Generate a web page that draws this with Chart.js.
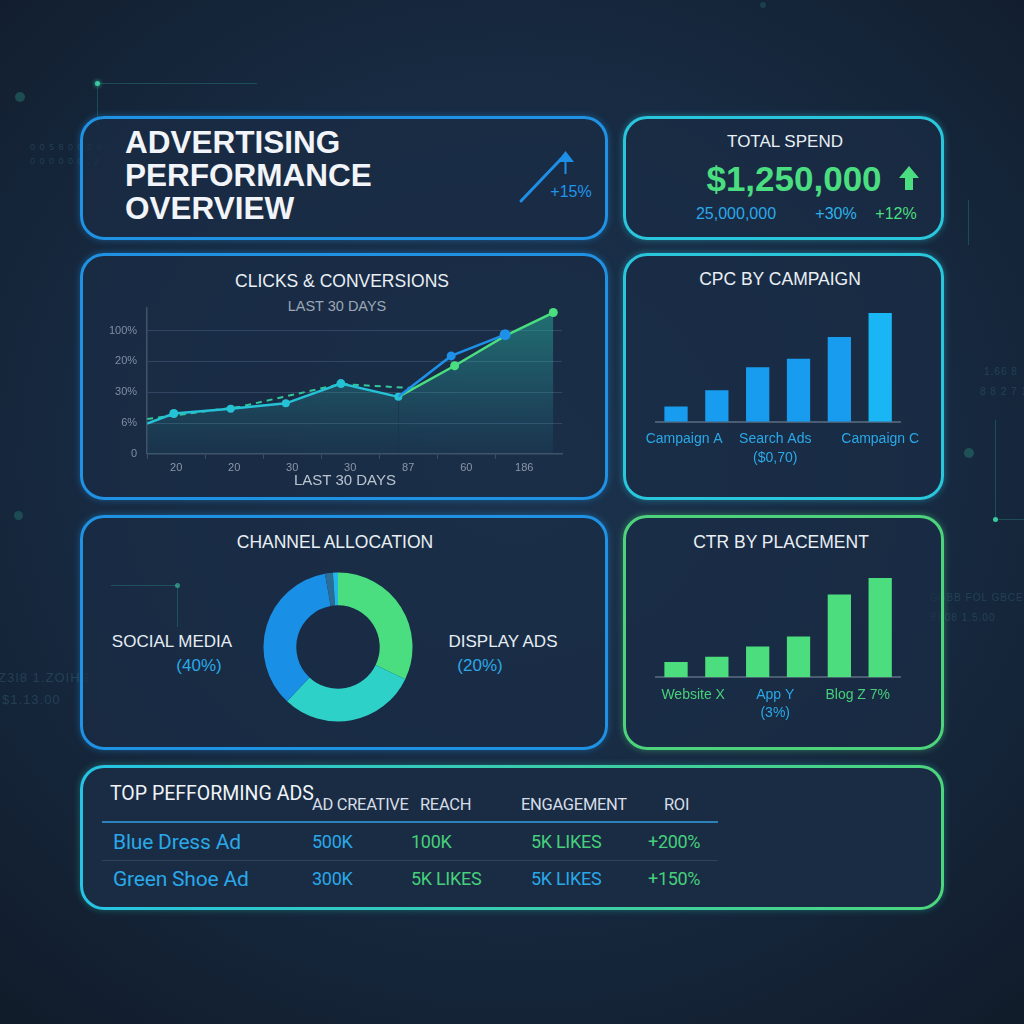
<!DOCTYPE html>
<html>
<head>
<meta charset="utf-8">
<script src="https://cdn.jsdelivr.net/npm/chart.js@4.4.1/dist/chart.umd.min.js"></script>
<style>
html,body{margin:0;padding:0;}
body{width:1024px;height:1024px;overflow:hidden;position:relative;
  background:radial-gradient(ellipse 75% 70% at 50% 45%, #1c334e 0%, #172a41 55%, #111c2b 100%);
  font-family:'Liberation Sans', Arial, sans-serif;color:#e8eef5;}
.panel{position:absolute;box-sizing:border-box;border:3px solid #1f92e4;border-radius:24px;background:rgba(26,45,69,0.72);}
.blue{border-color:#1f92e4;box-shadow:0 0 7px rgba(31,146,228,.45);}
.cyan{border-color:#29c6dc;box-shadow:0 0 7px rgba(41,198,220,.45);}
.green{border-color:#4cd37c;box-shadow:0 0 7px rgba(76,211,124,.45);}
.grad{border-color:transparent;background:linear-gradient(#192c44,#192c44) padding-box,linear-gradient(90deg,#25c4e4,#4cd67c) border-box;box-shadow:0 0 7px rgba(40,200,180,.4);}
.t{position:absolute;white-space:nowrap;line-height:1;}
.c{transform:translate(-50%,-50%);}
.l{transform:translateY(-50%);}
.title{font-size:17.5px;color:#e9eff5;}
canvas{position:absolute;}
.ln{position:absolute;background:rgba(44,150,140,0.35);}
.dot{position:absolute;border-radius:50%;}
.faint{position:absolute;color:rgba(60,120,130,0.35);font-size:13px;white-space:nowrap;letter-spacing:1px;}
</style>
</head>
<body>

<!-- background decoration -->
<div class="ln" style="left:97px;top:83px;width:160px;height:1px;"></div>
<div class="ln" style="left:97px;top:83px;width:1px;height:42px;"></div>
<div class="dot" style="left:95px;top:81px;width:5px;height:5px;background:#3bc9a0;box-shadow:0 0 4px #3bc9a0;"></div>
<div class="dot" style="left:15px;top:92px;width:10px;height:10px;background:rgba(40,130,120,0.45);"></div>
<div class="faint" style="left:30px;top:142px;font-size:9px;">0 0 5 8 0 0 0 0</div>
<div class="faint" style="left:30px;top:156px;font-size:9px;">0 0 0 0 0 0 . 2</div>
<div class="dot" style="left:14px;top:511px;width:9px;height:9px;background:rgba(40,130,120,0.4);"></div>
<div class="faint" style="left:-2px;top:670px;">Z3I8 1.ZOIHS</div>
<div class="faint" style="left:2px;top:692px;">$1.13.00</div>
<div class="ln" style="left:968px;top:200px;width:1px;height:45px;"></div>
<div class="faint" style="left:984px;top:366px;font-size:10px;">1.66 8</div>
<div class="faint" style="left:980px;top:386px;font-size:10px;">8 8 2 7 1</div>
<div class="dot" style="left:964px;top:448px;width:10px;height:10px;background:rgba(40,130,120,0.45);"></div>
<div class="ln" style="left:995px;top:420px;width:1px;height:99px;"></div>
<div class="ln" style="left:995px;top:519px;width:40px;height:1px;"></div>
<div class="dot" style="left:993px;top:517px;width:5px;height:5px;background:#3bc9a0;"></div>
<div class="faint" style="left:930px;top:592px;font-size:10px;">GBBB FOL GBCE</div>
<div class="faint" style="left:930px;top:612px;font-size:10px;">BF08 1.5.00</div>
<div class="dot" style="left:760px;top:2px;width:6px;height:6px;background:rgba(40,130,120,0.3);"></div>

<!-- panels -->
<div class="panel blue" style="left:80px;top:116px;width:528px;height:124px;"></div>
<div class="panel cyan" style="left:623px;top:116px;width:321px;height:124px;"></div>
<div class="panel blue" style="left:80px;top:253px;width:528px;height:247px;"></div>
<div class="panel cyan" style="left:623px;top:253px;width:321px;height:247px;"></div>
<div class="panel blue" style="left:80px;top:515px;width:528px;height:235px;"></div>
<div class="panel green" style="left:623px;top:515px;width:321px;height:235px;"></div>
<div class="panel grad" style="left:80px;top:765px;width:864px;height:145px;"></div>

<!-- decoration showing through the channel panel -->
<div class="ln" style="left:111px;top:585px;width:66px;height:1px;"></div>
<div class="ln" style="left:177px;top:585px;width:1px;height:42px;"></div>
<div class="dot" style="left:175px;top:583px;width:5px;height:5px;background:#3bc9a0;opacity:.6;"></div>

<!-- header block -->
<div class="t" style="left:125px;top:126px;font-size:31.5px;line-height:33px;font-weight:bold;color:#f1f4f8;">ADVERTISING<br>PERFORMANCE<br>OVERVIEW</div>
<svg style="position:absolute;left:0;top:0;" width="1024" height="260">
  <line x1="521" y1="201" x2="561" y2="159" stroke="#1e8fe6" stroke-width="3" stroke-linecap="round"/>
  <line x1="565.5" y1="158" x2="565.5" y2="174" stroke="#1e8fe6" stroke-width="2"/>
  <polygon points="565.5,151 557,162 574,162" fill="#1e8fe6"/>
  <polygon points="909,166 899,178 905,178 905,190 913,190 913,178 919,178" fill="#4ade80"/>
</svg>
<div class="t c" style="left:571px;top:192px;font-size:16px;color:#1e95ea;">+15%</div>

<div class="t c" style="left:785px;top:141px;font-size:17px;color:#e9eff5;">TOTAL SPEND</div>
<div class="t c" style="left:794px;top:178px;font-size:35px;font-weight:bold;color:#4ade80;">$1,250,000</div>
<div class="t c" style="left:736px;top:214px;font-size:16px;color:#2aa8e8;">25,000,000</div>
<div class="t c" style="left:836px;top:214px;font-size:16px;color:#2cb2ea;">+30%</div>
<div class="t c" style="left:896px;top:214px;font-size:16px;color:#4ade80;">+12%</div>

<!-- clicks & conversions -->
<div class="t c title" style="left:342px;top:282px;">CLICKS &amp; CONVERSIONS</div>
<div class="t c" style="left:337px;top:306px;font-size:14.5px;color:#9ba7b5;">LAST 30 DAYS</div>
<canvas id="lineChart" width="490" height="193" style="left:95px;top:291px;"></canvas>
<div class="t c" style="left:345px;top:479px;font-size:15px;color:#b9c4d0;">LAST 30 DAYS</div>

<!-- CPC -->
<div class="t c title" style="left:780px;top:280px;">CPC BY CAMPAIGN</div>
<canvas id="cpcChart" width="300" height="175" style="left:630px;top:309px;"></canvas>

<!-- channel -->
<div class="t c title" style="left:335px;top:543px;">CHANNEL ALLOCATION</div>
<canvas id="channelChart" width="160" height="160" style="left:258px;top:567px;"></canvas>
<div class="t c" style="left:172px;top:641px;font-size:17px;color:#e6edf4;">SOCIAL MEDIA</div>
<div class="t c" style="left:199px;top:665px;font-size:17px;color:#2aa8e8;">(40%)</div>
<div class="t c" style="left:503px;top:641px;font-size:17px;color:#e6edf4;">DISPLAY ADS</div>
<div class="t c" style="left:480px;top:665px;font-size:17px;color:#2aa8e8;">(20%)</div>

<!-- CTR -->
<div class="t c title" style="left:781px;top:543px;">CTR BY PLACEMENT</div>
<canvas id="ctrChart" width="300" height="180" style="left:630px;top:569px;"></canvas>

<!-- table -->
<div id="table"></div>

<script>
// ---- data ----
const lineXTicks = ['20', '20', '30', '30', '87', '60', '186'];
const lineYTicks = ['0', '6%', '30%', '20%', '100%'];

const clickDays = [0, 0.46, 1.44, 2.39, 3.34, 4.33];
const clickRate = [0.985, 1.31, 1.46, 1.64, 2.28, 1.85];
const blueDays = [4.33, 5.24, 6.17];
const blueRate = [1.85, 3.18, 3.87];
const convDays = [4.33, 5.30, 6.17, 7.0];
const convRate = [1.85, 2.86, 3.83, 4.59];
const trendDays = [0, 1.6, 3.34, 4.6];
const trendRate = [1.13, 1.53, 2.27, 2.13];

const cpcCampaigns = ['Campaign A', 'Campaign B', 'Search Ads', 'Shopping', 'Video', 'Campaign C'];
const cpcValues = [0.14, 0.29, 0.50, 0.58, 0.78, 1.00];
const cpcTickLabels = ['Campaign A', ['Search Ads', '($0,70)'], 'Campaign C'];
const cpcTickAt = [0.7, 2.93, 5.5];

const ctrPlacements = ['Website X', 'Website W', 'App Y', 'App V', 'Blog Q', 'Blog Z'];
const ctrValues = [1.07, 1.45, 2.16, 2.87, 5.84, 7.0];
const ctrTickLabels = ['Website X', ['App Y', '(3%)'], 'Blog Z 7%'];
const ctrTickAt = [0.92, 2.93, 4.95];

const channelLabels = ['Display Ads', 'Search', 'Social Media', 'Email', 'Other'];
const channelShares = [32.1, 29.9, 35.2, 1.7, 1.1];

const tableHeaders = ['AD CREATIVE', 'REACH', 'ENGAGEMENT', 'ROI'];
const adNames = ['Blue Dress Ad', 'Green Shoe Ad'];
const adCreative = ['500K', '300K'];
const adReach = ['100K', '5K LIKES'];
const adEngagement = ['5K LIKES', '5K LIKES'];
const adRoi = ['+200%', '+150%'];

// ---- styling ----
const BLUE = '#1e90e8', CYAN = '#25c2d6', GREEN = '#4ade80', TXT_BLUE = '#2aa8e8', TXT_GREEN = '#47cf7b';
Chart.defaults.font.family = "'Liberation Sans', Arial, sans-serif";
Chart.defaults.animation = false;

function pts(xs, ys) {
    return xs.map((x, i) => ({ x: x, y: ys[i] }));
}

function areaFill(ctx) {
    const area = ctx.chart.chartArea;
    if (!area) return 'rgba(0,0,0,0)';
    const g = ctx.chart.ctx.createLinearGradient(0, area.top, 0, area.bottom);
    g.addColorStop(0, 'rgba(44,200,170,0.45)');
    g.addColorStop(1, 'rgba(44,170,190,0.06)');
    return g;
}

// ---- clicks & conversions ----
new Chart(document.getElementById('lineChart'), {
    type: 'line',
    data: {
        datasets: [
            { data: pts(blueDays, blueRate), borderColor: BLUE, pointBackgroundColor: BLUE, pointBorderWidth: 0,
              borderWidth: 2.5, pointRadius: [0, 4.5, 5.5], fill: false, order: 0 },
            { data: pts(convDays, convRate), borderColor: GREEN, pointBackgroundColor: GREEN, pointBorderWidth: 0,
              borderWidth: 2.5, pointRadius: [0, 4.5, 0, 4.5], fill: 'origin', backgroundColor: areaFill, order: 1 },
            { data: pts(clickDays, clickRate), borderColor: CYAN, pointBackgroundColor: CYAN, pointBorderWidth: 0,
              borderWidth: 2.5, pointRadius: [0, 4.5, 4, 4, 4.5, 4], fill: 'origin', backgroundColor: areaFill, order: 2 },
            { data: pts(trendDays, trendRate), borderColor: '#33c79c', borderDash: [6, 5], borderWidth: 2,
              pointRadius: 0, fill: false, order: 3 }
        ]
    },
    options: {
        responsive: false,
        layout: { padding: { left: 4, right: 23, top: 7, bottom: 6 } },
        plugins: { legend: { display: false }, tooltip: { enabled: false } },
        elements: { line: { tension: 0 } },
        scales: {
            x: {
                type: 'linear', min: 0, max: 7.15,
                afterBuildTicks: axis => { axis.ticks = lineXTicks.map((_, i) => ({ value: i })); },
                ticks: { callback: (v, i) => lineXTicks[i], labelOffset: 29, padding: 3, color: '#8a97a8',
                         font: { size: 11 }, maxRotation: 0, autoSkip: false },
                grid: { drawOnChartArea: false, drawTicks: true, tickLength: 5, color: '#3c4f66' },
                border: { color: '#3f536b', width: 1.5 }
            },
            y: {
                min: 0, max: 4.75,
                afterBuildTicks: axis => { axis.ticks = lineYTicks.map((_, i) => ({ value: i })); },
                ticks: { callback: (v, i) => lineYTicks[i], padding: 10, color: '#7f8ea3', font: { size: 11 } },
                grid: { drawTicks: false, color: 'rgba(110,140,175,0.28)' },
                border: { color: '#3f536b', width: 1.5 }
            }
        }
    }
});

// ---- bar charts ----
function barChart(id, cats, values, maxVal, color, tickLabels, tickAt, tickColors, pad) {
    return new Chart(document.getElementById(id), {
        type: 'bar',
        data: {
            labels: cats,
            datasets: [{ data: values, backgroundColor: color, borderWidth: 0,
                         categoryPercentage: 1, barPercentage: 0.57 }]
        },
        options: {
            responsive: false,
            layout: { padding: pad },
            plugins: { legend: { display: false }, tooltip: { enabled: false } },
            scales: {
                x: { display: false },
                y: { display: false, min: 0, max: maxVal },
                xl: {
                    type: 'linear', position: 'bottom', min: 0, max: cats.length, offset: false,
                    afterBuildTicks: axis => { axis.ticks = tickAt.map(v => ({ value: v })); },
                    ticks: { callback: (v, i) => tickLabels[i], color: ctx => tickColors[ctx.index],
                             padding: 8, font: { size: 14, lineHeight: 1.35 }, maxRotation: 0, autoSkip: false },
                    grid: { display: false, drawTicks: false, offset: false },
                    border: { display: true, color: '#4b5d72', width: 2 }
                }
            }
        }
    });
}

barChart('cpcChart', cpcCampaigns, cpcValues, 1.0,
    ['#189cef', '#189cef', '#189cef', '#189cef', '#189cef', '#1ab5f4'],
    cpcTickLabels, cpcTickAt, [TXT_BLUE, TXT_BLUE, TXT_BLUE],
    { left: 25.6, right: 29.4, top: 4, bottom: 8.5 });

barChart('ctrChart', ctrPlacements, ctrValues, 7.0, '#4cde7e',
    ctrTickLabels, ctrTickAt, [TXT_GREEN, TXT_BLUE, TXT_GREEN],
    { left: 25.6, right: 29.4, top: 9, bottom: 18 });

// ---- channel allocation ----
new Chart(document.getElementById('channelChart'), {
    type: 'doughnut',
    data: {
        labels: channelLabels,
        datasets: [{ data: channelShares, borderWidth: 0,
                     backgroundColor: ['#4ade80', '#2dd1c8', '#1a8fe6', '#2a6d96', '#22b5ea'] }]
    },
    options: {
        responsive: false,
        cutout: '56%',
        layout: { padding: 5.5 },
        plugins: { legend: { display: false }, tooltip: { enabled: false } }
    }
});

// ---- top performing ads table ----
const table = document.getElementById('table');
function cell(text, x, y, size, color, extra) {
    const d = document.createElement('div');
    d.className = 't l';
    d.textContent = text;
    d.style.cssText += 'left:' + x + 'px;top:' + y + 'px;font-size:' + size + 'px;color:' + color +
        ';font-family:Roboto, sans-serif;' + (extra || '');
    table.appendChild(d);
}
function rule(y, h, color) {
    const d = document.createElement('div');
    d.style.cssText = 'position:absolute;left:102px;width:616px;top:' + y + 'px;height:' + h + 'px;background:' + color;
    table.appendChild(d);
}

cell('TOP PEFFORMING ADS', 110, 794, 19.5, '#f0f4f8', 'letter-spacing:0px;');
const colX = [312, 420, 521, 664];
tableHeaders.forEach((h, i) => cell(h, colX[i], 805, 16.5, '#d6dde6', 'letter-spacing:-0.3px;'));
rule(821, 2, '#2b82b8');
rule(860, 1, '#2e4358');

const rowY = [842, 879];
const valueX = [312, 411, 531, 648];
const rowColors = [
    [TXT_BLUE, TXT_GREEN, TXT_GREEN, TXT_GREEN],
    [TXT_BLUE, TXT_GREEN, TXT_BLUE, TXT_GREEN]
];
adNames.forEach((name, r) => {
    cell(name, 113, rowY[r], 21, TXT_BLUE, 'letter-spacing:-0.2px;');
    [adCreative[r], adReach[r], adEngagement[r], adRoi[r]].forEach((v, c) =>
        cell(v, valueX[c], rowY[r], 18, rowColors[r][c], 'letter-spacing:-0.3px;'));
});
</script>
</body>
</html>
